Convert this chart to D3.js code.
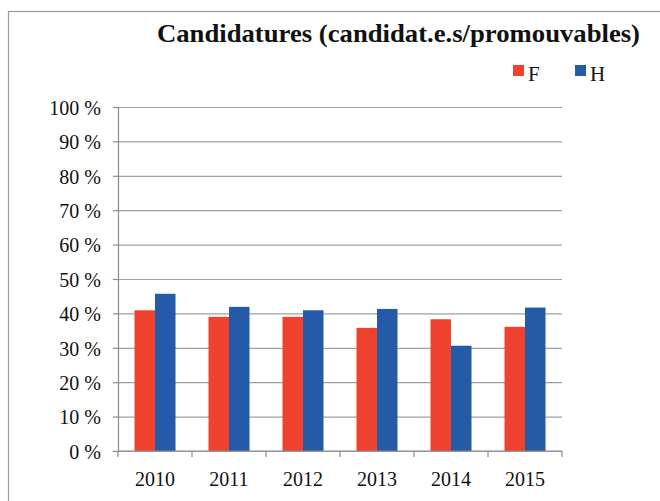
<!DOCTYPE html>
<html>
<head>
<meta charset="utf-8">
<script src="https://cdn.jsdelivr.net/npm/d3@7"></script>
<style>
  body { margin: 0; background: #fff; }
  svg { display: block; }
</style>
</head>
<body>
<div id="chart"></div>
<script>
// data
const years = ["2010", "2011", "2012", "2013", "2014", "2015"];
const series = ["F", "H"];
const valuesF = [40.9, 39.0, 39.0, 35.8, 38.3, 36.1];
const valuesH = [45.7, 41.9, 40.9, 41.3, 30.6, 41.7];
const yTicks = [0, 10, 20, 30, 40, 50, 60, 70, 80, 90, 100];
const colors = ["#ee412e", "#255aa8"];

const width = 660, height = 501;
const margin = {top: 107, right: 98, bottom: 50, left: 118};
const innerW = width - margin.left - margin.right;
const innerH = height - margin.top - margin.bottom;

const rows = years.map((y, i) => ({year: y, F: valuesF[i], H: valuesH[i]}));

const svg = d3.select("#chart").append("svg")
  .attr("width", width)
  .attr("height", height);

// outer frame (clipped by window on right/bottom)
svg.append("rect")
  .attr("x", 8.5).attr("y", 11.5)
  .attr("width", 700).attr("height", 600)
  .attr("fill", "none")
  .attr("stroke", "#9a9a9a")
  .attr("stroke-width", 1.2);

const g = svg.append("g")
  .attr("transform", `translate(${margin.left},${margin.top})`);

const x0 = d3.scaleBand()
  .domain(years)
  .range([0, innerW])
  .paddingInner(0.446)
  .paddingOuter(0.223);

const x1 = d3.scaleBand()
  .domain(series)
  .range([0, x0.bandwidth()]);

const y = d3.scaleLinear()
  .domain([0, 100])
  .range([innerH, 0]);

// gridlines
g.append("g")
  .call(d3.axisLeft(y).tickValues(yTicks).tickSize(-innerW).tickFormat(""))
  .call(a => a.select(".domain").remove())
  .call(a => a.selectAll("line").attr("stroke", "#a0a0a0").attr("stroke-width", 1.2));

// bars
g.append("g")
  .selectAll("g")
  .data(rows)
  .join("g")
    .attr("transform", d => `translate(${x0(d.year)},0)`)
  .selectAll("rect")
  .data(d => series.map((s, i) => ({key: s, value: d[s], i: i})))
  .join("rect")
    .attr("x", d => x1(d.key))
    .attr("y", d => y(d.value))
    .attr("width", x1.bandwidth())
    .attr("height", d => innerH - y(d.value))
    .attr("fill", d => colors[d.i]);

// y axis
const yAxis = g.append("g")
  .call(d3.axisLeft(y).tickValues(yTicks).tickSize(5).tickPadding(12).tickFormat(d => d + " %"));
yAxis.select(".domain").attr("stroke", "#8a8a8a").attr("stroke-width", 1.2);
yAxis.selectAll("line").attr("stroke", "#8a8a8a").attr("stroke-width", 1.2);
yAxis.selectAll("text")
  .attr("font-family", "'Liberation Serif', 'DejaVu Serif', serif")
  .attr("font-size", 20)
  .attr("fill", "#111")
  .attr("dy", "0.36em");

// x axis
const step = x0.step();
const xAxis = g.append("g").attr("transform", `translate(0,${innerH})`);
xAxis.append("line")
  .attr("x1", 0).attr("x2", innerW)
  .attr("stroke", "#8a8a8a").attr("stroke-width", 1.2);
xAxis.selectAll("line.tick")
  .data(d3.range(years.length + 1))
  .join("line")
    .attr("class", "tick")
    .attr("x1", i => i * step).attr("x2", i => i * step)
    .attr("y1", 0).attr("y2", 6)
    .attr("stroke", "#8a8a8a").attr("stroke-width", 1.2);
xAxis.selectAll("text")
  .data(years)
  .join("text")
    .attr("x", d => x0(d) + x0.bandwidth() / 2)
    .attr("y", 35)
    .attr("text-anchor", "middle")
    .attr("font-family", "'Liberation Serif', 'DejaVu Serif', serif")
    .attr("font-size", 20)
    .attr("fill", "#111")
    .text(d => d);

// title
svg.append("text")
  .attr("x", 157)
  .attr("y", 42)
  .attr("font-family", "'Liberation Serif', 'DejaVu Serif', serif")
  .attr("font-weight", "bold")
  .attr("font-size", 26)
  .attr("fill", "#111")
  .attr("textLength", 483)
  .attr("lengthAdjust", "spacingAndGlyphs")
  .text("Candidatures (candidat.e.s/promouvables)");

// legend
const legend = svg.append("g")
  .selectAll("g")
  .data(series)
  .join("g")
    .attr("transform", (d, i) => `translate(${513 + i * 62},65)`);
legend.append("rect")
  .attr("width", 11).attr("height", 11)
  .attr("fill", (d, i) => colors[i]);
legend.append("text")
  .attr("x", 15)
  .attr("y", 16)
  .attr("font-family", "'Liberation Serif', 'DejaVu Serif', serif")
  .attr("font-size", 21)
  .attr("fill", "#111")
  .text(d => d);
</script>
</body>
</html>
